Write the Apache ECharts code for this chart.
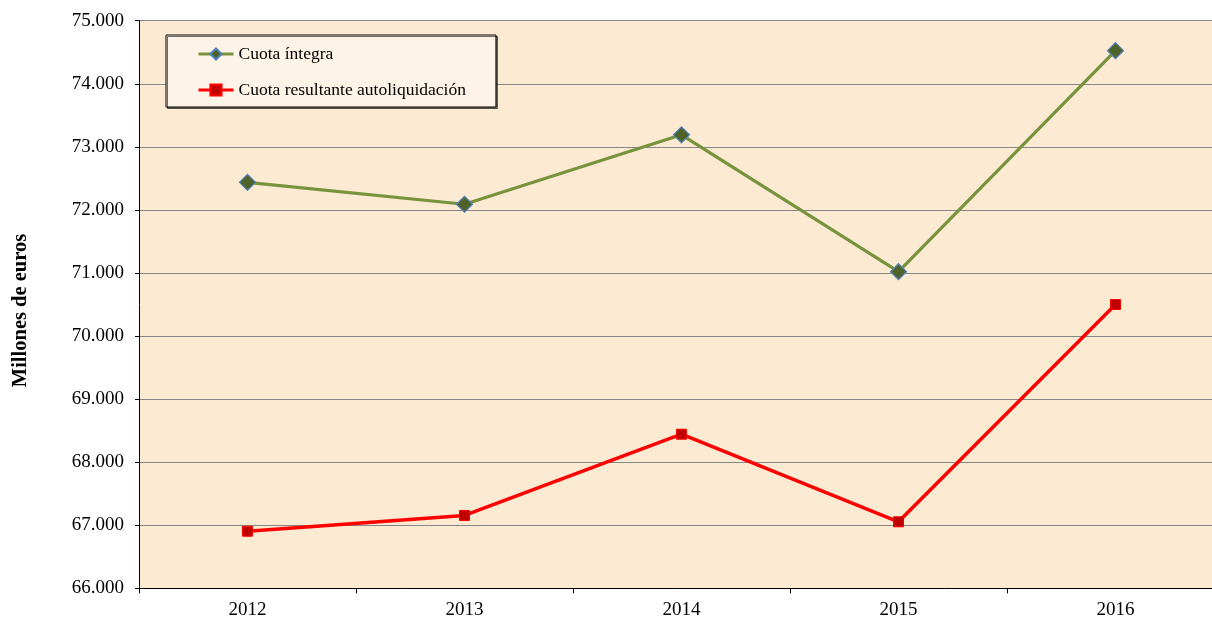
<!DOCTYPE html>
<html>
<head>
<meta charset="utf-8">
<title>Cuota íntegra vs cuota resultante autoliquidación</title>
<script src="https://cdn.jsdelivr.net/npm/echarts@6/dist/echarts.min.js"></script>
<style>
  html, body { margin: 0; padding: 0; background: #fff; }
  #chart { width: 1212px; height: 618px; }
</style>
</head>
<body>
<div id="chart"></div>
<script>
// --- datos (millones de euros) ---
const years = ['2012', '2013', '2014', '2015', '2016'];
const cuotaIntegra = [72437, 72090, 73190, 71020, 74525];
const cuotaResultante = [66905, 67155, 68443, 67054, 70500];
const seriesNames = ['Cuota íntegra', 'Cuota resultante autoliquidación'];
const yMin = 66000;
const yMax = 75000;
const yStep = 1000;

const FONT = '"Liberation Serif", "Times New Roman", serif';

// formato español: 75.000
const fmtMiles = v => String(v).replace(/\B(?=(\d{3})+(?!\d))/g, '.');

const chart = echarts.init(document.getElementById('chart'), null, { renderer: 'canvas' });

const option = {
    animation: false,
    textStyle: { fontFamily: FONT },
    grid: {
        left: 139,
        top: 20.7,
        width: 1085,       // la imagen original está recortada por la derecha
        height: 567.6,
        outerBoundsMode: 'none',
        containLabel: false,
        show: true,
        backgroundColor: '#FDEAD3',
        borderWidth: 0
    },
    legend: {
        orient: 'vertical',
        left: 166,
        top: 35,
        padding: [10, 30, 8, 31],
        itemWidth: 35,
        itemHeight: 14,
        itemGap: 18,
        backgroundColor: '#FEF3E7',
        borderColor: '#000',
        borderWidth: 1,
        shadowColor: 'rgba(0,0,0,0.55)',
        shadowBlur: 0,
        shadowOffsetX: 1.5,
        shadowOffsetY: 1.5,
        lineStyle: { width: 3 },
        textStyle: { fontFamily: FONT, fontSize: 17.5, color: '#000' },
        data: seriesNames
    },
    xAxis: {
        type: 'category',
        data: years,
        boundaryGap: true,
        axisLine: { show: true, lineStyle: { color: '#000', width: 1 } },
        axisTick: { show: true, length: 5, inside: false, lineStyle: { color: '#000' } },
        axisLabel: { color: '#000', fontFamily: FONT, fontSize: 19, margin: 12 },
        splitLine: { show: false }
    },
    yAxis: {
        type: 'value',
        min: yMin,
        max: yMax,
        interval: yStep,
        name: 'Millones de euros',
        nameLocation: 'middle',
        nameGap: 108,
        nameRotate: 90,
        nameTextStyle: { fontFamily: FONT, fontSize: 20.5, fontWeight: 'bold', color: '#000', padding: [0, 12, 0, 0] },
        axisLine: { show: true, lineStyle: { color: '#000', width: 1 } },
        axisTick: { show: true, length: 4, lineStyle: { color: '#000' } },
        axisLabel: { color: '#000', fontFamily: FONT, fontSize: 19, margin: 15, formatter: fmtMiles },
        splitLine: { show: true, lineStyle: { color: '#868686', width: 1.2 } }
    },
    series: [
        {
            name: seriesNames[0],
            type: 'line',
            data: cuotaIntegra,
            symbol: 'diamond',
            symbolSize: 16,
            lineStyle: { color: '#77933C', width: 3.2 },
            itemStyle: { color: '#4F6228', borderColor: '#4F81BD', borderWidth: 1.2 },
            z: 3
        },
        {
            name: seriesNames[1],
            type: 'line',
            data: cuotaResultante,
            symbol: 'rect',
            symbolSize: 10,
            lineStyle: { color: '#FF0000', width: 3.5 },
            itemStyle: { color: '#C00000', borderColor: '#FF0000', borderWidth: 1 },
            z: 3
        }
    ]
};

chart.setOption(option);
</script>
</body>
</html>
